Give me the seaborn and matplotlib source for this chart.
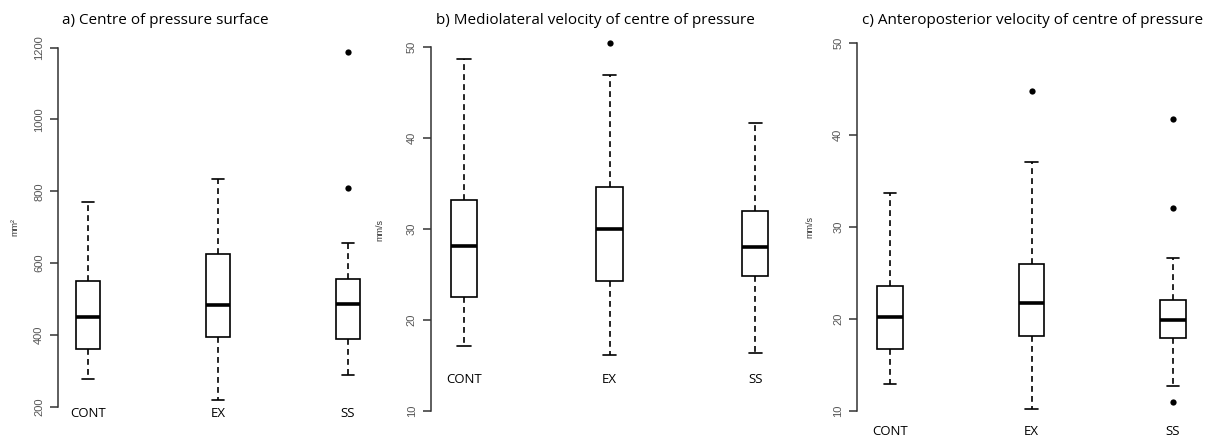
import numpy as np
import pandas as pd
import matplotlib
matplotlib.use("Agg")
import matplotlib.pyplot as plt
import seaborn as sns

# five-number summaries: [low whisker, Q1, median, Q3, high whisker]
groups = ["CONT", "EX", "SS"]

surface_cont = [277, 360, 450, 551, 769]
surface_ex = [219, 393, 482, 625, 834]
surface_ss = [288, 389, 487, 557, 656]
surface_out_ss = [1187, 810]

ml_cont = [17.1, 22.5, 28.1, 33.2, 48.6]
ml_ex = [16.1, 24.3, 30.0, 34.6, 46.9]
ml_ss = [16.4, 24.8, 28.0, 32.0, 41.6]
ml_out_ex = [50.4]

ap_cont = [12.9, 16.7, 20.2, 23.6, 33.7]
ap_ex = [10.15, 18.1, 21.7, 26.0, 37.0]
ap_ss = [12.7, 17.9, 19.9, 22.0, 26.6]
ap_out_ex = [44.8]
ap_out_ss = [41.7, 32.0, 10.9]

titles = ["a) Centre of pressure surface",
          "b) Mediolateral velocity of centre of pressure",
          "c) Anteroposterior velocity of centre of pressure"]
ylabels = ["mm²", "mm/s", "mm/s"]

sns.set_style("white")
W, H = 1225, 441
fig = plt.figure(figsize=(W / 100, H / 100), dpi=100)


def rect(left, right, top, bottom):
    return [left / W, 1 - bottom / H, (right - left) / W, (bottom - top) / H]


def long_frame(stats):
    rows = []
    for g, vals in zip(groups, stats):
        for v in vals:
            rows.append((g, v))
    return pd.DataFrame(rows, columns=["group", "value"])


def draw(ax, stats, outliers, ylim, xlim, bounds, ticks, label_y):
    df = long_frame(stats)
    sns.boxplot(data=df, x="group", y="value", order=groups, ax=ax,
                whis=(0, 100), showfliers=False, width=0.18,
                color="white", linecolor="black", linewidth=1.2,
                whiskerprops=dict(linestyle=(0, (3.5, 2.5))),
                medianprops=dict(linewidth=2.6))
    odf = long_frame(outliers)
    if len(odf):
        sns.stripplot(data=odf, x="group", y="value", order=groups, ax=ax,
                      jitter=False, color="black", size=4.5)
    ax.set_ylim(*ylim)
    ax.set_xlim(*xlim)
    sns.despine(ax=ax, bottom=True)
    ax.spines["left"].set_bounds(*bounds)
    ax.spines["left"].set_color("#333333")
    ax.spines["left"].set_linewidth(1.1)
    ax.set_yticks(ticks)
    ax.set_yticklabels([str(t) for t in ticks], rotation=90, va="center",
                       fontsize=8, color="#555555", family="Liberation Sans")
    ax.tick_params(axis="y", length=6, width=1.1, color="#333333", pad=4, left=True)
    ax.set_xticks([])
    ax.set_xlabel("")
    ax.set_ylabel("")
    for i, g in enumerate(groups):
        ax.text(i, label_y, g, ha="center", va="center", fontsize=9.5,
                family="Open Sans", color="black", clip_on=False)


ax_a = fig.add_axes(rect(58, 378, 40.5, 424.7))
draw(ax_a, [surface_cont, surface_ex, surface_ss], [[], [], surface_out_ss],
     (150, 1220), (-0.23, 2.23), (200, 1200), [200, 400, 600, 800, 1000, 1200], 182)

ax_b = fig.add_axes(rect(430.7, 788.5, 28.5, 429.2))
draw(ax_b, [ml_cont, ml_ex, ml_ss], [[], ml_out_ex, []],
     (8, 52), (-0.229, 2.229), (10, 50), [10, 20, 30, 40, 50], 13.5)

ax_c = fig.add_axes(rect(857, 1206, 24.3, 429.1))
draw(ax_c, [ap_cont, ap_ex, ap_ss], [[], ap_out_ex, ap_out_ss],
     (8, 52), (-0.233, 2.233), (10, 50), [10, 20, 30, 40, 50], 7.7)

# panel titles and axis units
for x, t in zip([62, 436, 862], titles):
    fig.text(x / W, 1 - 20 / H, t, ha="left", va="center", fontsize=11,
             family="Open Sans", color="black")
for x, y, t in zip([15, 380, 810], [227, 230, 227], ylabels):
    fig.text(x / W, 1 - y / H, t, ha="center", va="center", rotation=90,
             fontsize=6.5, color="#333333", family="Liberation Sans")

fig.savefig("out.png", dpi=100)
